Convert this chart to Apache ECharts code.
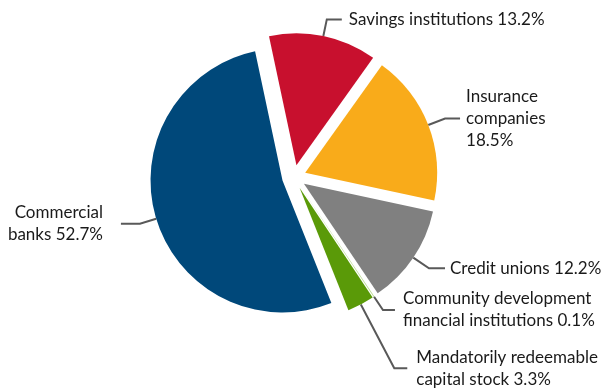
<!DOCTYPE html>
<html>
<head>
<meta charset="utf-8">
<script src="https://cdn.jsdelivr.net/npm/echarts@6/dist/echarts.min.js"></script>
<style>
  html, body { margin: 0; padding: 0; background: #fff; }
  #chart { width: 607px; height: 390px; }
</style>
</head>
<body>
<div id="chart"></div>
<script>
// Holders by institution type, share of total (%)
const categories = [
  'Savings institutions',
  'Insurance\ncompanies',
  'Credit unions',
  'Community development\nfinancial institutions',
  'Mandatorily redeemable\ncapital stock',
  'Commercial\nbanks'
];
const shares = [13.2, 18.5, 12.2, 0.1, 3.3, 52.7];
// separator placed between the name and its percentage
const separators = [' ', '\n', ' ', ' ', ' ', ' '];
const sliceColors = ['#c8102e', '#f9ab1a', '#808080', '#b7d98c', '#5a9a08', '#00487a'];

// per-slice leader line lengths: [first segment, horizontal segment, gap to text]
const leader = [
  [17, 15, 7],
  [18, 15, 6],
  [19, 16, 5],
  [16, 12, 8],
  [72, 13, 9],
  [17, 19, 18]
];

const data = categories.map((name, i) => ({
  name: name,
  value: shares[i],
  selected: true,
  itemStyle: { color: sliceColors[i] },
  label: { distanceToLabelLine: leader[i][2] },
  labelLine: { length: leader[i][0], length2: leader[i][1] }
}));

const chart = echarts.init(document.getElementById('chart'), null, { renderer: 'canvas' });
chart.setOption({
  animation: false,
  backgroundColor: '#ffffff',
  series: [{
    type: 'pie',
    center: [294, 177],
    radius: 132,
    startAngle: 102,
    clockwise: true,
    selectedMode: 'multiple',
    selectedOffset: 12,
    avoidLabelOverlap: false,
    emphasis: { disabled: true },
    itemStyle: { borderWidth: 0 },
    label: {
      show: true,
      position: 'outside',
      fontFamily: 'Lato',
      fontSize: 17,
      lineHeight: 22,
      color: '#1a1a1a',
      formatter: p => p.name + separators[p.dataIndex] + p.value.toFixed(1) + '%'
    },
    labelLine: {
      show: true,
      smooth: false,
      lineStyle: { color: '#595959', width: 2 }
    },
    data: data
  }]
});
</script>
</body>
</html>
